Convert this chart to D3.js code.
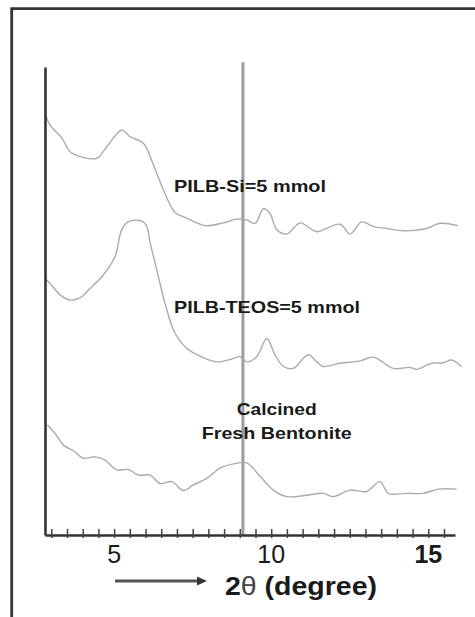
<!DOCTYPE html>
<html lang="en">

<head>
	<meta charset="UTF-8">
	<title>XRD patterns</title>
	<script type="text/javascript" src="https://cdn.jsdelivr.net/npm/d3@7/dist/d3.min.js" charset="UTF-8"></script>
	<style>
		body { margin: 0; background: #fff; }
		text { font-family: "Liberation Sans", Arial, sans-serif; }
	</style>
</head>

<body>
	<script type="text/javascript">
	// 2theta (degree) / intensity (a.u., curves stacked)
	let siTheta = [2.84, 2.96, 3.34, 3.60, 4.02, 4.45, 4.77, 5.24, 5.51, 5.93, 6.25, 6.57, 6.94, 7.31, 7.90, 8.48, 8.90, 9.22, 9.49, 9.75, 9.96, 10.18, 10.49, 10.92, 11.24, 11.45, 12.19, 12.51, 12.88, 13.25, 13.68, 14.20, 14.95, 15.37, 15.95]
	let siInt = [89.4, 87.6, 84.8, 81.9, 80.7, 80.5, 83.0, 86.5, 85.1, 83.7, 79.1, 73.7, 68.9, 67.7, 66.1, 66.7, 67.5, 67.3, 66.6, 69.7, 68.7, 65.2, 64.3, 66.7, 65.5, 64.8, 66.4, 64.3, 66.9, 65.9, 65.5, 65.0, 65.5, 66.6, 66.1]

	let teosTheta = [2.86, 3.07, 3.28, 3.60, 3.92, 4.24, 4.66, 5.03, 5.24, 5.45, 5.83, 6.02, 6.15, 6.36, 6.62, 6.94, 7.31, 7.74, 8.27, 8.69, 9.01, 9.22, 9.54, 9.86, 10.12, 10.39, 10.70, 11.18, 11.45, 11.66, 12.19, 12.83, 13.25, 13.89, 14.42, 14.63, 15.11, 15.48, 15.74, 16.06]
	let teosInt = [54.5, 52.9, 51.3, 50.2, 50.7, 52.7, 55.6, 59.5, 65.2, 66.9, 67.2, 66.2, 62.3, 56.6, 49.5, 43.1, 39.9, 38.2, 37.0, 37.5, 38.1, 37.0, 38.1, 42.0, 38.5, 36.0, 35.6, 38.5, 37.0, 36.0, 36.7, 37.2, 38.0, 35.6, 35.8, 35.4, 36.7, 36.8, 37.4, 36.0]

	let bentTheta = [2.88, 3.12, 3.39, 3.71, 4.02, 4.40, 4.71, 5.09, 5.45, 5.77, 6.15, 6.46, 6.84, 7.20, 7.52, 7.95, 8.37, 8.80, 9.22, 9.65, 10.07, 10.49, 11.13, 11.66, 11.98, 12.51, 13.04, 13.46, 13.73, 14.31, 14.84, 15.32, 15.90]
	let bentInt = [23.5, 21.7, 19.2, 18.0, 16.4, 16.7, 16.0, 13.9, 14.0, 12.8, 12.8, 11.0, 11.4, 9.5, 10.7, 12.1, 14.3, 15.2, 15.4, 12.5, 9.6, 8.2, 8.5, 8.9, 8.2, 9.6, 9.3, 11.4, 8.9, 8.9, 8.9, 9.8, 9.8]

	let tickValues = [5, 10, 15]
	let tickLabels = ['5', '10', '15']
	let minorTicks = [3, 3.5, 4, 4.5, 5, 5.5, 6, 6.5, 7, 7.5, 8, 8.5, 9, 9.5, 10, 10.5, 11, 11.5, 12, 12.5, 13, 13.5, 14, 14.5, 15, 15.5]
	let refTheta = 9.1
	let seriesNames = ['PILB-Si=5 mmol', 'PILB-TEOS=5 mmol', 'Calcined', 'Fresh Bentonite']

	let width = 475,
		height = 617;

	let svg = d3.select('body').append('svg')
		.attr('width', width)
		.attr('height', height)

	let xScale = d3.scaleLinear()
		.domain([2.8, 15.85])
		.range([45, 455])

	let yScale = d3.scaleLinear()
		.domain([0, 100])
		.range([535, 67])

	// outer frame (top and left edges only visible)
	svg.append('path')
		.attr('d', 'M11.7,617 V8.7 H475')
		.attr('fill', 'none')
		.attr('stroke', '#353535')
		.attr('stroke-width', 2.8)

	// reference line
	svg.append('line')
		.attr('x1', xScale(refTheta))
		.attr('x2', xScale(refTheta))
		.attr('y1', yScale(101))
		.attr('y2', yScale(0))
		.attr('stroke', '#9c9c9c')
		.attr('stroke-width', 3)

	let line = d3.line()
		.x(d => xScale(d[0]))
		.y(d => yScale(d[1]))
		.curve(d3.curveCatmullRom.alpha(0.5))

	let series = [
		d3.zip(siTheta, siInt),
		d3.zip(teosTheta, teosInt),
		d3.zip(bentTheta, bentInt)
	]

	svg.selectAll('path.curve')
		.data(series)
		.enter()
		.append('path')
		.attr('class', 'curve')
		.attr('d', line)
		.attr('fill', 'none')
		.attr('stroke', '#ababab')
		.attr('stroke-width', 1.4)

	// axes
	let axisBottom = d3.axisBottom(xScale)
		.tickValues(minorTicks)
		.tickFormat('')
		.tickSizeInner(9)
		.tickSizeOuter(0)

	let gx = svg.append('g')
		.attr('transform', 'translate(0,535)')
		.call(axisBottom)
	gx.select('.domain').attr('stroke', '#333').attr('stroke-width', 2.4)
	gx.selectAll('.tick line')
		.attr('y1', -6)
		.attr('y2', 3)
		.attr('stroke', '#444')
		.attr('stroke-width', 1.5)

	let axisLeft = d3.axisLeft(yScale)
		.tickValues([])
		.tickSizeOuter(0)

	let gy = svg.append('g')
		.attr('transform', 'translate(45,0)')
		.call(axisLeft)
	gy.select('.domain').attr('stroke', '#333').attr('stroke-width', 2.6)

	svg.selectAll('text.tickLabel')
		.data(tickValues)
		.enter()
		.append('text')
		.attr('class', 'tickLabel')
		.attr('x', d => xScale(d))
		.attr('y', 563)
		.attr('text-anchor', 'middle')
		.attr('font-size', 25)
		.attr('font-weight', (d, i) => i == 2 ? 'bold' : 'normal')
		.attr('fill', '#1a1a1a')
		.text((d, i) => tickLabels[i])

	// axis title with arrow
	svg.append('line')
		.attr('x1', 115)
		.attr('x2', 199)
		.attr('y1', 581)
		.attr('y2', 581)
		.attr('stroke', '#555')
		.attr('stroke-width', 3)
	svg.append('path')
		.attr('d', 'M197,576.5 L207,581 L197,585.5 Z')
		.attr('fill', '#333')

	let title = svg.append('text')
		.attr('x', 225)
		.attr('y', 595)
		.attr('font-size', 25)
		.attr('font-weight', 'bold')
		.attr('fill', '#1a1a1a')
		.attr('textLength', 152)
		.attr('lengthAdjust', 'spacingAndGlyphs')
	title.append('tspan').text('2')
	title.append('tspan').attr('font-weight', 'normal').attr('fill', '#444').text('θ')
	title.append('tspan').text(' (degree)')

	// curve labels
	let labelPos = [
		{ x: 174, y: 191.7, w: 152, anchor: 'start' },
		{ x: 174, y: 312.7, w: 186, anchor: 'start' },
		{ x: 276.7, y: 415, w: 80, anchor: 'middle' },
		{ x: 276.7, y: 439.3, w: 150, anchor: 'middle' }
	]

	svg.selectAll('text.label')
		.data(seriesNames)
		.enter()
		.append('text')
		.attr('class', 'label')
		.attr('x', (d, i) => labelPos[i].x)
		.attr('y', (d, i) => labelPos[i].y)
		.attr('text-anchor', (d, i) => labelPos[i].anchor)
		.attr('font-size', 17)
		.attr('font-weight', 'bold')
		.attr('fill', '#1a1a1a')
		.attr('textLength', (d, i) => labelPos[i].w)
		.attr('lengthAdjust', 'spacingAndGlyphs')
		.text(d => d)
	</script>
</body>

</html>
